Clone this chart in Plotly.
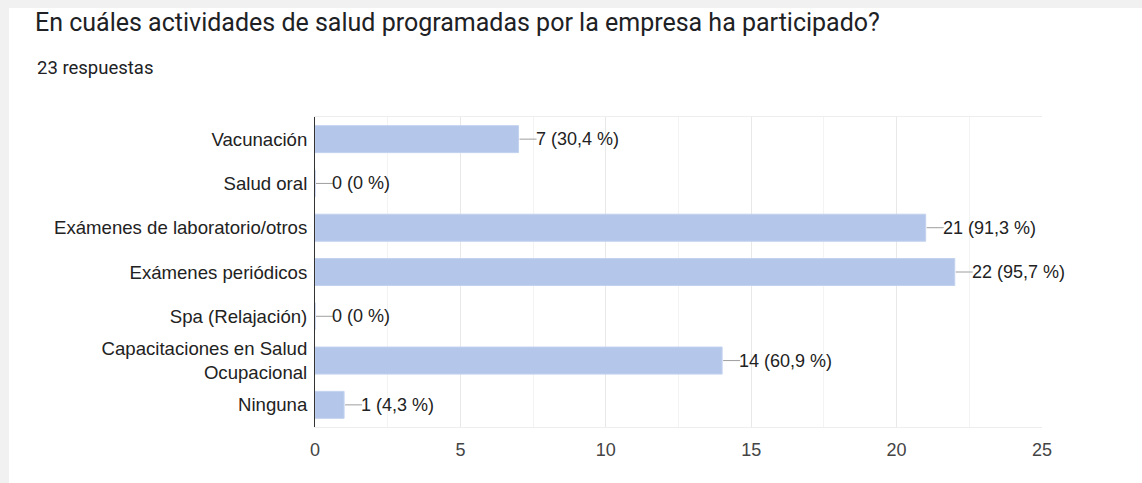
import plotly.graph_objects as go

# datos de la encuesta
categorias = [
    "Vacunación",
    "Salud oral",
    "Exámenes de laboratorio/otros",
    "Exámenes periódicos",
    "Spa (Relajación)",
    "Capacitaciones en Salud<br>Ocupacional",
    "Ninguna",
]
respuestas = [7, 0, 21, 22, 0, 14, 1]
porcentajes = ["30,4", "0", "91,3", "95,7", "0", "60,9", "4,3"]
total = 23

W, H = 1142, 483
ML, MR, MT, MB = 315, 100, 117, 56
PW, PH = W - ML - MR, H - MT - MB


def px_x(x):
    return (x - ML) / PW


def px_y(y):
    return 1 - (y - MT) / PH


fig = go.Figure()
fig.add_trace(go.Bar(
    x=respuestas, y=categorias, orientation="h",
    marker=dict(color="#b4c6ea", line=dict(color="#c3d2ef", width=1)),
    width=0.61, hoverinfo="skip", showlegend=False,
))

# etiquetas con guion
for cat, v, p in zip(categorias, respuestas, porcentajes):
    fig.add_shape(type="line", xref="x", yref="y", xsizemode="pixel",
                  xanchor=v, x0=1, x1=18, y0=cat, y1=cat,
                  line=dict(color="#9e9e9e", width=1))
    fig.add_annotation(x=v, y=cat, xref="x", yref="y", text=f"{v} ({p} %)",
                       showarrow=False, xanchor="left", xshift=15,
                       font=dict(family="Arial", size=18, color="#222222"))

# sombra de la tarjeta
fig.add_shape(type="rect", xref="paper", yref="paper", layer="below",
              x0=px_x(0), x1=px_x(9), y0=px_y(H), y1=px_y(0),
              fillcolor="#f1f1f1", line_width=0)
fig.add_shape(type="rect", xref="paper", yref="paper", layer="below",
              x0=px_x(0), x1=px_x(W), y0=px_y(8), y1=px_y(0),
              fillcolor="#f1f1f1", line_width=0)

fig.add_annotation(xref="paper", yref="paper", x=px_x(35), y=px_y(68),
                   text=f"{total} respuestas", showarrow=False,
                   xanchor="left", yanchor="middle",
                   font=dict(family="Roboto", size=18.5, color="#202124"))

fig.update_layout(
    width=W, height=H,
    margin=dict(l=ML, r=MR, t=MT, b=MB),
    paper_bgcolor="white", plot_bgcolor="white",
    title=dict(text="En cuáles actividades de salud programadas por la empresa ha participado?",
               x=35 / W, xanchor="left", y=1 - 22 / H, yanchor="middle",
               font=dict(family="Roboto", size=25, color="#202124")),
    bargap=0.39,
)
fig.update_xaxes(range=[0, 25], dtick=5, tick0=0,
                 showgrid=True, gridcolor="#e8e8e8", gridwidth=1,
                 minor=dict(dtick=2.5, showgrid=True, gridcolor="#f3f3f3"),
                 zeroline=False, showline=True, linecolor="#eeeeee", mirror=True,
                 ticks="", ticklabelstandoff=6,
                 tickfont=dict(family="Arial", size=18, color="#444444"),
                 fixedrange=True)
fig.update_yaxes(autorange="reversed", showgrid=False, zeroline=False,
                 showline=True, linecolor="#333333", linewidth=1,
                 ticks="", ticklabelstandoff=3,
                 tickfont=dict(family="Arial", size=18.6, color="#222222"),
                 fixedrange=True)

fig.write_html("out.html", config={"displayModeBar": False},
               post_script="document.body.style.margin='0';")
